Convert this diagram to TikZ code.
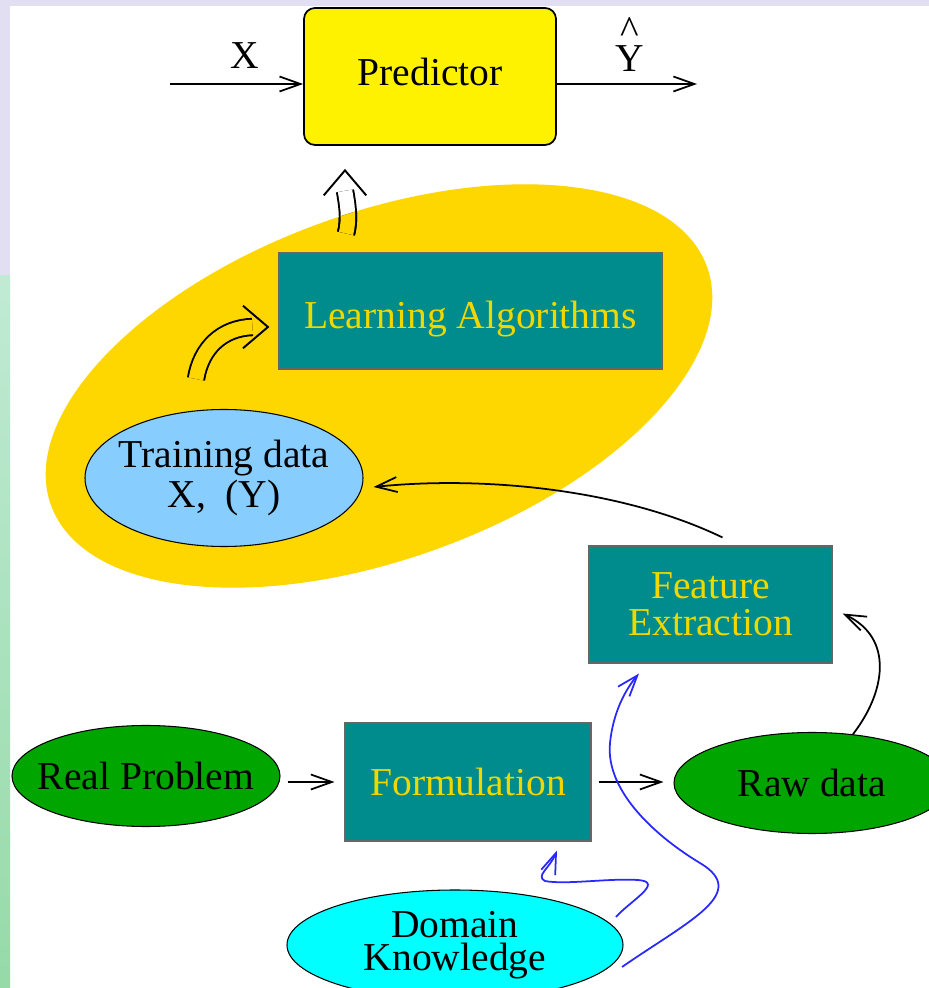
\documentclass[tikz,border=0pt]{standalone}
\usepackage{fontspec}
\setmainfont{Liberation Serif}
\usepackage{xcolor}
\usetikzlibrary{arrows.meta,positioning,calc,shapes.geometric}

\definecolor{boxteal}{RGB}{0,140,140}
\definecolor{labelgold}{RGB}{240,215,0}
\definecolor{blobgold}{RGB}{255,215,0}
\definecolor{skyfill}{RGB}{135,206,255}
\definecolor{probgreen}{RGB}{0,165,0}
\definecolor{knowcyan}{RGB}{0,255,255}
\definecolor{wiggleblue}{RGB}{40,40,255}
\definecolor{lavender}{RGB}{226,223,243}
\definecolor{mintA}{RGB}{192,234,212}
\definecolor{mintB}{RGB}{150,218,168}

\newcommand{\tightline}[1]{\makebox[0pt]{#1}}

\begin{document}
\begin{tikzpicture}[x=0.2mm,y=0.2mm,>={Straight Barb[length=0.42cm,width=0.3cm]},
  every node/.style={font=\fontsize{22.5}{25}\selectfont},
  stagebox/.style={draw=black!60,line width=0.6pt,fill=boxteal,text=labelgold,inner sep=0pt},
  blob/.style={draw=black,line width=0.6pt,ellipse,inner sep=0pt},
  link/.style={->,line width=1pt},
  wiggle/.style={->,line width=1pt,draw=wiggleblue},
  dbl/.style={double distance=0.29cm,line width=1.1pt},
  chev/.style={line width=1.1pt,-{Straight Barb[length=0.5cm,width=0.85cm]}}]

  % page background
  \useasboundingbox (0,0) rectangle (929,988);
  \fill[white] (0,0) rectangle (929,988);
  \fill[lavender] (0,982) rectangle (929,988);
  \fill[lavender] (0,712) rectangle (10,988);
  \shade[bottom color=mintB,top color=mintA] (0,0) rectangle (10,712);

  % the learning blob
  \fill[blobgold,rotate around={20:(379,602)}] (379,602) ellipse [x radius=6.98cm,y radius=3.46cm];

  \node[draw,line width=1pt,fill=yellow,rounded corners=0.22cm,minimum width=5.04cm,minimum height=2.74cm,text depth=0.2cm] (pred) at (430,911.5) {Predictor};
  \node[stagebox,minimum width=7.66cm,minimum height=2.32cm,text height=0.86cm] (learn) at (470.5,677) {Learning Algorithms};
  \node[blob,fill=skyfill,minimum width=5.56cm,minimum height=2.74cm,align=center,font=\fontsize{22.5}{22.7}\selectfont] (train) at (224,510) {\tightline{Training data}\\\tightline{X,~~(Y)}};
  \node[stagebox,minimum width=4.86cm,minimum height=2.34cm,align=center,font=\fontsize{22.5}{21}\selectfont] (feat) at (710.5,383.5) {Feature\\Extraction};
  \node[blob,fill=probgreen,minimum width=5.36cm,minimum height=2.02cm] (real) at (146,212) {\tightline{Real Problem}};
  \node[stagebox,minimum width=4.92cm,minimum height=2.36cm] (form) at (468,206) {Formulation};
  \node[blob,fill=probgreen,minimum width=5.52cm,minimum height=2.02cm] (raw) at (812,205) {\tightline{Raw data}};
  \node[blob,fill=knowcyan,minimum width=6.72cm,minimum height=2.2cm,align=center,font=\fontsize{22.5}{18.5}\selectfont] (dom) at (455,43) {\tightline{Domain}\\\tightline{Knowledge}};

  % predictor input and output
  \coordinate (xin) at (170,904);
  \coordinate (yout) at (697,904);
  \draw[link] (xin) -- (xin -| pred.west) node[pos=0.56,above=0.18cm] {X};
  \draw[link] (pred.east |- yout) -- (yout) node[pos=0.52,above=0.12cm,align=center,font=\fontsize{22.5}{12}\selectfont] {\textasciicircum\\Y};

  % double arrows
  \draw[dbl,double=blobgold] ($(train.north)+(-28,30)$) .. controls (201,640) and (222,660) .. ($(learn.west)+(-26,-16)$);
  \draw[chev] ($(learn.west)+(-11,-16)$) -- ($(learn.west)+(-9,-16)$);
  \draw[dbl,double=white] ($(learn.north)+(-124.5,19)$) .. controls (350,770) and (347,785) .. ($(pred.south)+(-85,-45)$);
  \begin{scope}
    \clip[rotate around={20:(379,602)}] (379,602) ellipse [x radius=6.98cm,y radius=3.46cm];
    \draw[dbl,double=blobgold] ($(learn.north)+(-124.5,19)$) .. controls (350,770) and (347,785) .. ($(pred.south)+(-85,-45)$);
  \end{scope}
  \draw[chev] ($(pred.south)+(-85,-25)$) -- ($(pred.south)+(-85,-23)$);

  % main chain
  \draw[link,shorten <=0.14cm,shorten >=0.2cm] (real.east |- form.west) -- (form.west);
  \draw[link,shorten <=0.14cm,shorten >=0.2cm] (form.east) -- (form.east -| raw.west);
  \draw[link] (raw.50) .. controls (885,295) and (895,350) .. ($(feat.east)+(10,-9)$);
  \draw[link] ($(feat.north)+(12,8)$) .. controls (620,500) and (480,512) .. ($(train.east)+(10,-9)$);

  % domain knowledge
  \draw[wiggle] ($(dom.center)+(161,28)$) .. controls (630,87) and (665,106) .. (638,108)
    .. controls (610,110) and (565,103) .. (545,107) .. controls (535,112) and (550,120) .. ($(form.south)+(89,-9)$);
  \draw[wiggle] ($(dom.center)+(167,-22)$) .. controls (690,68) and (750,95) .. (700,125)
    .. controls (660,149) and (605,195) .. (610,245) .. controls (613,275) and (625,298) .. ($(feat.south)+(-71.5,-10)$);
\end{tikzpicture}
\end{document}
